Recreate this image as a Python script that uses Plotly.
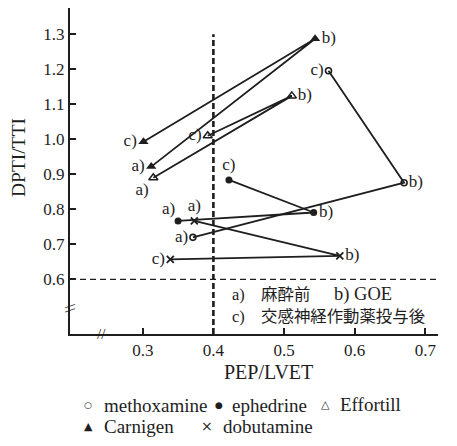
import plotly.graph_objects as go

# ---- data ----
stage_labels = ["a)", "b)", "c)"]

methoxamine_x = [0.371, 0.670, 0.563]
methoxamine_y = [0.720, 0.876, 1.196]

ephedrine_x = [0.350, 0.542, 0.422]
ephedrine_y = [0.767, 0.791, 0.884]

effortill_x = [0.315, 0.511, 0.392]
effortill_y = [0.890, 1.124, 1.010]

carnigen_x = [0.312, 0.544, 0.301]
carnigen_y = [0.922, 1.287, 0.993]

dobutamine_x = [0.373, 0.579, 0.339]
dobutamine_y = [0.767, 0.667, 0.657]

x_ticks = [0.3, 0.4, 0.5, 0.6, 0.7]
y_ticks = [0.6, 0.7, 0.8, 0.9, 1.0, 1.1, 1.2, 1.3]
y_tick_labels = ["0.6", "0.7", "0.8", "0.9", "1.0", "1.1", "1.2", "1.3"]

x_title = "PEP/LVET"
y_title = "DPTI/TTI"

ref_x = 0.4
ref_y = 0.6

INK = "#1e1e1e"
SERIF = "Liberation Serif, Noto Sans CJK JP, serif"
LSERIF = "Liberation Serif"

# (name, x, y, marker style, label positions, label-offset sizes)
series = [
    ("methoxamine", methoxamine_x, methoxamine_y,
     dict(symbol="circle-open", size=6, line=dict(width=1.6, color=INK)),
     ["middle left", "middle right", "middle left"], [6, 6, 6]),
    ("ephedrine", ephedrine_x, ephedrine_y,
     dict(symbol="circle", size=7, color=INK),
     ["top left", "middle right", "top center"], [3, 7, 7]),
    ("Effortill", effortill_x, effortill_y,
     dict(symbol="triangle-up-open", size=8, line=dict(width=1.5, color=INK)),
     ["bottom left", "middle right", "middle left"], [6, 8, 8]),
    ("Carnigen", carnigen_x, carnigen_y,
     dict(symbol="triangle-up", size=9, color=INK),
     ["middle left", "middle right", "middle left"], [9, 9, 9]),
    ("dobutamine", dobutamine_x, dobutamine_y,
     dict(symbol="x-thin-open", size=7, line=dict(width=1.8, color=INK)),
     ["top center", "middle right", "middle left"], [7, 7, 7]),
]

fig = go.Figure()

# reference dashed lines
fig.add_trace(go.Scatter(x=[ref_x, ref_x], y=[0.444, 1.30], mode="lines",
                         line=dict(color=INK, width=2.6, dash="6px,3px"),
                         hoverinfo="skip", showlegend=False))
fig.add_trace(go.Scatter(x=[0.197, 0.718], y=[ref_y, ref_y], mode="lines",
                         line=dict(color=INK, width=1.4, dash="6px,4px"),
                         hoverinfo="skip", showlegend=False))

for name, xs, ys, marker, tpos, tsizes in series:
    m = dict(marker)
    m.setdefault("color", INK)
    fig.add_trace(go.Scatter(
        x=xs, y=ys, name=name, mode="lines+markers",
        line=dict(color=INK, width=1.8),
        marker=m, showlegend=False,
    ))
    fig.add_trace(go.Scatter(
        x=xs, y=ys, mode="markers+text", text=stage_labels, textposition=tpos,
        textfont=dict(family=LSERIF, size=17, color=INK),
        marker=dict(size=tsizes, opacity=0, color=INK),
        hoverinfo="skip", showlegend=False,
    ))

annotations = []
# explanatory text
annotations.append(dict(x=0.424, y=0.556, xref="x", yref="y", xanchor="left",
                        yanchor="middle", showarrow=False,
                        text="a)　麻酔前", font=dict(family=SERIF, size=16.4, color=INK)))
annotations.append(dict(x=0.568, y=0.556, xref="x", yref="y", xanchor="left",
                        yanchor="middle", showarrow=False,
                        text="b) GOE", font=dict(family=LSERIF, size=18.5, color=INK)))
annotations.append(dict(x=0.424, y=0.494, xref="x", yref="y", xanchor="left",
                        yanchor="middle", showarrow=False,
                        text="c)　交感神経作動薬投与後", font=dict(family=SERIF, size=16.4, color=INK)))

# axis break marks
annotations.append(dict(x=0.242, y=0, xref="x", yref="paper", showarrow=False,
                        text="//", font=dict(family=LSERIF, size=15, color=INK),
                        xanchor="center", yanchor="middle"))
annotations.append(dict(x=0, y=0.518, xref="paper", yref="y", showarrow=False,
                        text="\\\\", textangle=90, font=dict(family=LSERIF, size=15, color=INK),
                        xanchor="center", yanchor="middle"))

# page offset (browser body margin) compensation
W, H = 449, 438
PLOT_L, PLOT_R, PLOT_T, PLOT_B = 70, 438, 8, 334   # page pixel positions


def px(xp):
    return (xp - PLOT_L) / (PLOT_R - PLOT_L)


def py(yp):
    return (PLOT_B - yp) / (PLOT_B - PLOT_T)


# axis titles
annotations.append(dict(x=px(268), y=py(372), xref="paper", yref="paper", showarrow=False,
                        text=x_title, xanchor="center", yanchor="middle",
                        font=dict(family=LSERIF, size=20, color=INK)))
annotations.append(dict(x=px(18), y=py(158), xref="paper", yref="paper", showarrow=False,
                        text=y_title, textangle=-90, xanchor="center", yanchor="middle",
                        font=dict(family=LSERIF, size=19.5, color=INK)))

legend_items = [
    ("○", 9, 88, 405, "methoxamine", 102),
    ("●", 9, 219, 405, "ephedrine", 230),
    ("△", 11, 325, 404, "Effortill", 338),
    ("▲", 11, 88, 427, "Carnigen", 102),
    ("×", 14, 207, 426, "dobutamine", 221),
]
for sym, ssize, sx, sy, label, tx in legend_items:
    annotations.append(dict(x=px(sx), y=py(sy), xref="paper", yref="paper",
                            showarrow=False, text=sym, xanchor="center", yanchor="middle",
                            font=dict(family="DejaVu Sans", size=ssize, color=INK)))
    annotations.append(dict(x=px(tx), y=py(sy), xref="paper", yref="paper",
                            showarrow=False, text=label, xanchor="left", yanchor="middle",
                            font=dict(family=LSERIF, size=19, color=INK)))

fig.update_layout(
    width=W, height=H,
    margin=dict(l=PLOT_L - 8, r=W - (PLOT_R - 8), t=0, b=H - (PLOT_B - 8)),
    paper_bgcolor="white", plot_bgcolor="white",
    font=dict(family=SERIF, size=17, color=INK),
    annotations=annotations,
    showlegend=False,
    xaxis=dict(range=[0.197, 0.718], tickvals=x_ticks, ticktext=[f"{v:.1f}" for v in x_ticks],
               showline=True, linewidth=2, linecolor=INK, ticks="inside", ticklen=6,
               tickwidth=1.5, tickcolor=INK, showgrid=False, zeroline=False, automargin=False,
               tickfont=dict(family=LSERIF, size=17, color=INK)),
    yaxis=dict(range=[0.444, 1.375], tickvals=y_ticks, ticktext=y_tick_labels,
               showline=True, linewidth=2, linecolor=INK, ticks="inside", ticklen=6,
               tickwidth=1.5, tickcolor=INK, showgrid=False, zeroline=False, automargin=False,
               tickfont=dict(family=LSERIF, size=17, color=INK)),
)

fig.write_html("out.html")
